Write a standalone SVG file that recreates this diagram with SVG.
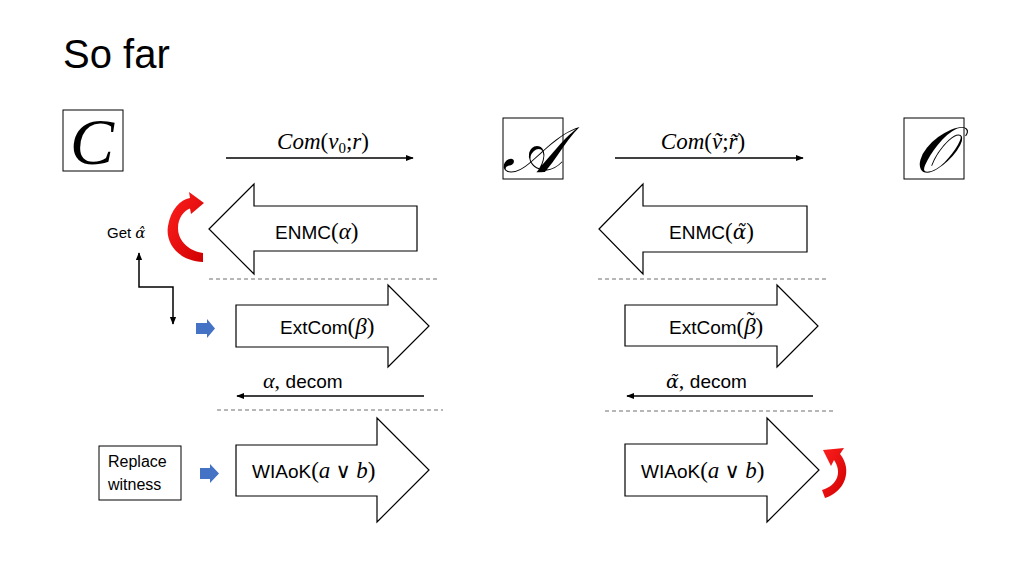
<svg xmlns="http://www.w3.org/2000/svg" width="1024" height="576" viewBox="0 0 1024 576">
<style>
.sans{font-family:"Liberation Sans",Arial,sans-serif;fill:#000}
.m{font-family:"Liberation Serif","DejaVu Serif",serif;fill:#000}
.dv{font-family:"DejaVu Serif",serif;fill:#000}
.it{font-style:italic}
.up{font-style:normal}
.box{fill:#fff;stroke:#000;stroke-width:1}
.blk{fill:#fff;stroke:#000;stroke-width:1.2;stroke-linejoin:miter}
.dash{stroke:#6f6f6f;stroke-width:1;stroke-dasharray:4 3;fill:none}
.ln{stroke:#000;stroke-width:1.5;fill:none}
.blue{fill:#4472C4}
.red{fill:url(#rg)}
</style>
<defs>
<marker id="ah" viewBox="0 0 10 10" refX="9" refY="5" markerWidth="8" markerHeight="8" markerUnits="userSpaceOnUse" orient="auto-start-reverse">
<path d="M0 1 L10 5 L0 9 Z" fill="#000"/>
</marker>
<linearGradient id="rg" x1="0" y1="0" x2="1" y2="1">
<stop offset="0" stop-color="#ff2020"/>
<stop offset="1" stop-color="#d00000"/>
</linearGradient>
</defs>
<rect width="1024" height="576" fill="#fff"/>
<text class="sans" x="63" y="68" font-size="40">So far</text>

<g id="node-C">
<rect class="box" x="63" y="110" width="60" height="61"/>
<text class="m it" x="92" y="164" font-size="66" text-anchor="middle">C</text>
</g>
<g id="node-A">
<rect class="box" x="503" y="118" width="60" height="61"/>
<text class="m it" x="532" y="172" font-size="64" text-anchor="middle">𝒜</text>
</g>
<g id="node-O">
<rect class="box" x="904" y="118" width="60" height="61"/>
<text class="m it" x="934" y="172" font-size="64" text-anchor="middle">𝒪</text>
</g>

<g id="enmc-left">
<path class="blk" d="M209 229 L254 184 L254 206 L417 206 L417 251 L254 251 L254 274 Z"/>
<text x="275" y="239"><tspan class="sans" font-size="19">ENMC</tspan><tspan class="m" font-size="23">(</tspan><tspan class="m it" font-size="23">α</tspan><tspan class="m" font-size="23">)</tspan></text>
</g>
<g id="enmc-right">
<path class="blk" d="M599 229 L643 184 L643 206 L807 206 L807 252 L643 252 L643 274 Z"/>
<text x="669" y="239"><tspan class="sans" font-size="19">ENMC</tspan><tspan class="m" font-size="23">(</tspan><tspan class="dv it" font-size="20">α̃</tspan><tspan class="m" font-size="23">)</tspan></text>
</g>
<g id="extcom-left">
<path class="blk" d="M236 305 L388 305 L388 285 L429 326 L388 367 L388 347 L236 347 Z"/>
<text x="280" y="334"><tspan class="sans" font-size="19">ExtCom</tspan><tspan class="m" font-size="23">(</tspan><tspan class="m it" font-size="23">β</tspan><tspan class="m" font-size="23">)</tspan></text>
</g>
<g id="extcom-right">
<path class="blk" d="M625 305 L777 305 L777 285 L818 326 L777 367 L777 346 L625 346 Z"/>
<text x="669" y="334"><tspan class="sans" font-size="19">ExtCom</tspan><tspan class="m" font-size="23">(</tspan><tspan class="m it" font-size="23">β</tspan><tspan class="m up" font-size="23" dx="-9" dy="-6">˜</tspan><tspan class="m" font-size="23" dx="1" dy="6">)</tspan></text>
</g>
<g id="wiaok-left">
<path class="blk" d="M236 445 L377 445 L377 418 L429 470 L377 522 L377 496 L236 496 Z"/>
<text x="252" y="478"><tspan class="sans" font-size="19">WIAoK</tspan><tspan class="m" font-size="23">(</tspan><tspan class="m it" font-size="23">a</tspan><tspan class="m" font-size="21"> ∨ </tspan><tspan class="m it" font-size="23">b</tspan><tspan class="m" font-size="23">)</tspan></text>
</g>
<g id="wiaok-right">
<path class="blk" d="M625 444 L767 444 L767 418 L819 470 L767 522 L767 496 L625 496 Z"/>
<text x="641" y="478"><tspan class="sans" font-size="19">WIAoK</tspan><tspan class="m" font-size="23">(</tspan><tspan class="m it" font-size="23">a</tspan><tspan class="m" font-size="21"> ∨ </tspan><tspan class="m it" font-size="23">b</tspan><tspan class="m" font-size="23">)</tspan></text>
</g>

<g id="get-alpha">
<text x="107" y="238"><tspan class="sans" font-size="15">Get </tspan><tspan class="dv it" font-size="15">α̂</tspan></text>
</g>
<g id="replace-witness">
<rect class="box" x="99" y="446" width="82" height="54"/>
<text class="sans" font-size="16" x="108" y="467">Replace</text>
<text class="sans" font-size="16" x="108" y="490">witness</text>
</g>

<g id="connectors">
<line class="ln" x1="226" y1="158" x2="413" y2="158" marker-end="url(#ah)"/>
<text class="m" x="323" y="149" font-size="23" text-anchor="middle"><tspan class="it">Com</tspan>(<tspan class="it">v</tspan><tspan font-size="15" dy="4">0</tspan><tspan dy="-4">;</tspan><tspan class="it">r</tspan>)</text>
<line class="ln" x1="615" y1="158" x2="803" y2="158" marker-end="url(#ah)"/>
<text class="m" x="703" y="149" font-size="23" text-anchor="middle"><tspan class="it">Com</tspan>(<tspan class="it">ṽ</tspan>;<tspan class="it">r̃</tspan>)</text>

<line class="ln" x1="424" y1="396" x2="237" y2="396" marker-end="url(#ah)"/>
<text x="263" y="388"><tspan class="m it" font-size="22">α</tspan><tspan class="m" font-size="22">, </tspan><tspan class="sans" font-size="19">decom</tspan></text>
<line class="ln" x1="813" y1="396" x2="627" y2="396" marker-end="url(#ah)"/>
<text x="666" y="388"><tspan class="dv it" font-size="19">α̃</tspan><tspan class="m" font-size="22">, </tspan><tspan class="sans" font-size="19">decom</tspan></text>

<path class="ln" d="M139 253 V287 H173 V324" stroke-width="1.3" marker-start="url(#ah)" marker-end="url(#ah)"/>

<line class="dash" x1="209" y1="279" x2="437" y2="279"/>
<line class="dash" x1="598" y1="279" x2="828" y2="279"/>
<line class="dash" x1="217" y1="410" x2="443" y2="410"/>
<line class="dash" x1="605" y1="411" x2="835" y2="411"/>

<path class="blue" d="M196 323 L207 323 L207 319 L215 328.5 L207 338 L207 334 L196 334 Z"/>
<path class="blue" d="M200 468 L210 468 L210 464 L219 473.5 L210 483 L210 479 L200 479 Z"/>

<path class="red" d="M203 262 C179 261 165 244 168 226 C171 209 180 200 190 198 L189 192 L204 203 L191 214 L190 208.5 C184 210.5 178 218 178 228 C178 242 190 251 203 253 Z"/>
<path class="red" d="M825 498 C845 492 853 470 840 454 L844 448 L823 450 L831 466 L834 460 C842 472 838 485 822 490 Z"/>
</g>
</svg>
